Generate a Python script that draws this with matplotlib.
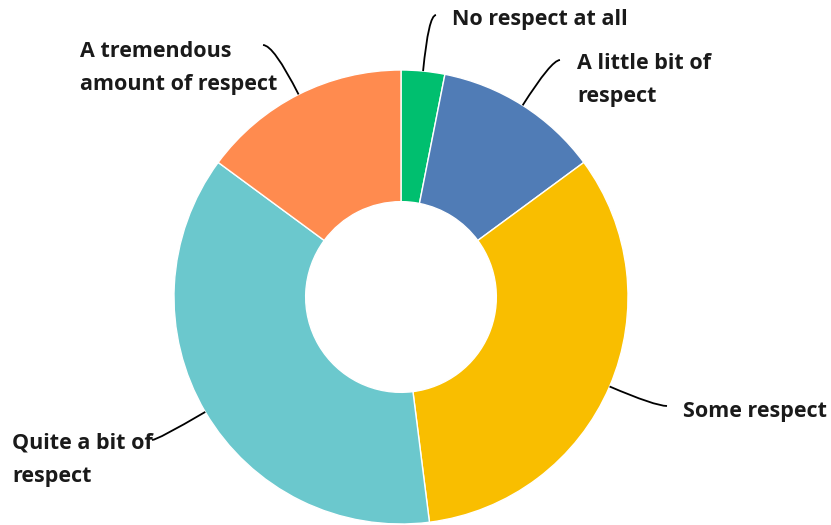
import numpy as np
import matplotlib

matplotlib.use("Agg")
import matplotlib.pyplot as plt
from matplotlib.path import Path
from matplotlib.patches import PathPatch

labels = [
    "No respect at all",
    "A little bit of\nrespect",
    "Some respect",
    "Quite a bit of\nrespect",
    "A tremendous\namount of respect",
]
shares = [3.1, 11.8, 33.1, 37.1, 14.9]
colors = ["#00BF6F", "#507CB6", "#F9BE00", "#6BC8CD", "#FF8B4F"]

# label anchor (left edge, vertical centre of text block) in pixels,
# and the end point of each leader line in pixels
W, H = 831, 525
CX, CY, R = 401, 297, 227
label_px = [(452, 20), (577, 80), (683, 412), (12, 460), (80, 68)]
line_end_px = [(436, 15), (560, 60), (667, 406), (152, 440), (263, 45)]


def to_data(px, py):
    return (px - CX) / R, (CY - py) / R


plt.rcParams["font.family"] = ["Open Sans", "DejaVu Sans"]

figure = plt.figure(figsize=(W / 100, H / 100), dpi=100)
axis = figure.add_axes([0, 0, 1, 1])
wedges, _ = axis.pie(
    shares,
    colors=colors,
    startangle=90,
    counterclock=False,
    radius=1.0,
    wedgeprops=dict(width=0.58, edgecolor="white", linewidth=1),
)
axis.set_xlim(-CX / R, (W - CX) / R)
axis.set_ylim(-(H - CY) / R, CY / R)
axis.set_aspect("equal")
axis.axis("off")

for wedge, text, lpos, lend in zip(wedges, labels, label_px, line_end_px):
    mid = np.deg2rad((wedge.theta1 + wedge.theta2) / 2)
    start = np.array([np.cos(mid), np.sin(mid)])
    end = np.array(to_data(*lend))
    # control point: radial line from start meets horizontal through end
    t = (end[1] - start[1]) / start[1] if abs(start[1]) > 1e-6 else 0.2
    ctrl = start + start * t
    ctrl[1] = end[1]
    path = Path([start, ctrl, end], [Path.MOVETO, Path.CURVE3, Path.CURVE3])
    axis.add_patch(PathPatch(path, fill=False, edgecolor="black", linewidth=1.3))
    x, y = to_data(*lpos)
    axis.text(x, y, text, ha="left", va="center", fontsize=15.5,
              fontweight="bold", color="#1a1a1a", linespacing=1.75)

figure.savefig("out.png", dpi=100)
plt.close(figure)
